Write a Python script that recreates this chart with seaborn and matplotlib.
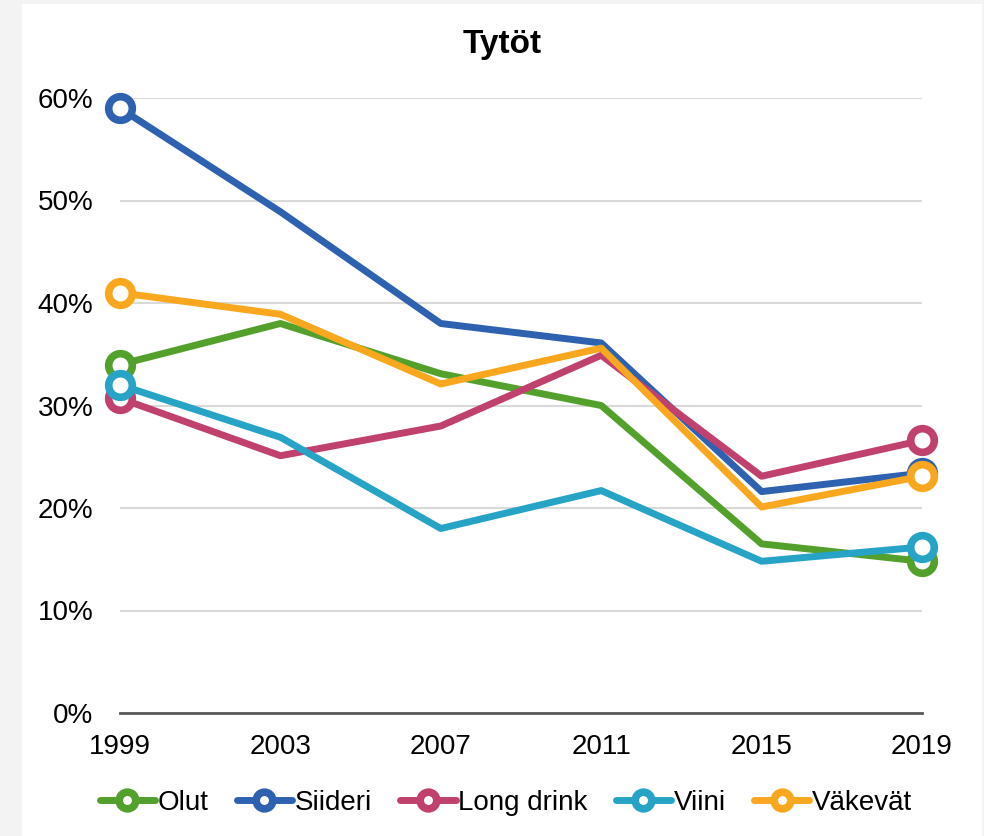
import matplotlib
matplotlib.use("Agg")
import matplotlib.pyplot as plt
from matplotlib.lines import Line2D
from matplotlib.patches import Rectangle
from matplotlib.ticker import FuncFormatter
import seaborn as sns
import pandas as pd

years = [1999, 2003, 2007, 2011, 2015, 2019]
olut = [34.0, 38.0, 33.1, 30.0, 16.5, 14.8]
siideri = [59.0, 48.9, 38.0, 36.1, 21.6, 23.4]
long_drink = [30.7, 25.1, 28.0, 34.9, 23.1, 26.6]
viini = [32.0, 26.9, 18.0, 21.7, 14.8, 16.2]
vakevat = [41.0, 38.9, 32.1, 35.6, 20.1, 23.1]

series_names = ["Olut", "Siideri", "Long drink", "Viini", "Väkevät"]
series_values = [olut, siideri, long_drink, viini, vakevat]
colors = ["#54a02c", "#2e62b0", "#c0406e", "#27a3c6", "#f9a71e"]
title = "Tytöt"

sns.set_style("white")
plt.rcParams["font.family"] = ["Liberation Sans", "DejaVu Sans"]
plt.rcParams["text.color"] = "black"

fig = plt.figure(figsize=(9.84, 8.36), dpi=100)
fig.patch.set_facecolor("#f3f3f3")
fig.patches.append(Rectangle((22 / 984, 0), 960 / 984, 1 - 4 / 836,
                             transform=fig.transFigure, facecolor="white",
                             edgecolor="none", zorder=-10))

ax = fig.add_axes([120 / 984, 1 - 713 / 836, 802 / 984, (713 - 98) / 836])
ax.set_zorder(1)
ax.set_facecolor("none")

df = pd.DataFrame({"year": years * len(series_names),
                   "value": sum(series_values, []),
                   "series": sum([[n] * len(years) for n in series_names], [])})

for name, col in zip(series_names, colors):
    sub = df[df["series"] == name]
    sns.lineplot(data=sub, x="year", y="value", ax=ax, color=col,
                 linewidth=5, marker="o", markersize=17,
                 markerfacecolor="white", markeredgecolor=col,
                 markeredgewidth=5.5, markevery=[0, len(sub) - 1],
                 clip_on=False, zorder=3, legend=False)

ax.set_xlim(1999, 2019)
ax.set_ylim(0, 60)
ax.set_xticks(years)
ax.set_yticks(range(0, 61, 10))
ax.yaxis.set_major_formatter(FuncFormatter(lambda v, p: f"{int(v)}%"))
ax.grid(axis="y", color="#d9d9d9", linewidth=1.5)
ax.set_axisbelow(True)
for s in ["left", "right", "top"]:
    ax.spines[s].set_visible(False)
ax.spines["bottom"].set_color("#595959")
ax.spines["bottom"].set_linewidth(2)
ax.tick_params(axis="both", length=0, labelsize=20, colors="black")
ax.tick_params(axis="y", pad=19)
ax.tick_params(axis="x", pad=15)
ax.set_xlabel("")
ax.set_ylabel("")

fig.text(502 / 984, 1 - 45 / 836, title, ha="center", va="center",
         fontsize=24, fontweight="bold", color="black")

handles = [Line2D([0], [0], color=c, linewidth=5, marker="o", markersize=12,
                  markerfacecolor="white", markeredgecolor=c, markeredgewidth=5.5)
           for c in colors]
leg = fig.legend(handles, series_names, loc="center", bbox_to_anchor=(506 / 984, 1 - 803 / 836),
                 ncol=5, frameon=False, fontsize=20, handlelength=2.0, handletextpad=0.1,
                 columnspacing=1.0, numpoints=1)
for t in leg.get_texts():
    t.set_color("black")

fig.savefig("out.png", dpi=100, facecolor=fig.get_facecolor())
